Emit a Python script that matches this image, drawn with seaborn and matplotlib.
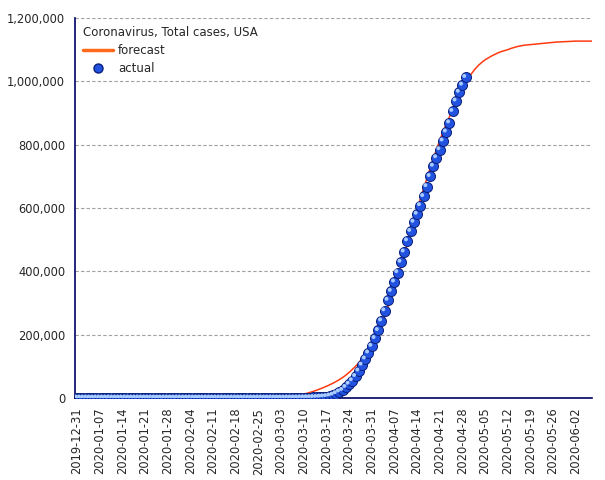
import pandas as pd
import numpy as np
import matplotlib
matplotlib.use("Agg")
import matplotlib.pyplot as plt
import matplotlib.dates as mdates
import matplotlib.transforms as mtransforms
from matplotlib.lines import Line2D
from matplotlib.ticker import FuncFormatter
import seaborn as sns

# actual total cases, one value per day from 2019-12-31
actual_dec = [0]
actual_jan = [0, 0, 0, 0, 0, 0, 0, 0, 0, 0, 0, 0, 0, 0, 0, 0, 0, 0, 0, 0, 0,
              0, 1, 1, 2, 2, 5, 5, 5, 5, 5]
actual_feb = [6, 7, 8, 11, 11, 11, 12, 12, 12, 12, 12, 13, 13, 14, 15, 15, 15,
              15, 15, 15, 15, 35, 35, 35, 53, 53, 59, 60, 62]
actual_mar = [68, 75, 100, 124, 158, 221, 319, 435, 541, 704, 994, 1301, 1630,
              2183, 2770, 3613, 4596, 6344, 9197, 13779, 19367, 24192, 33592,
              43781, 54856, 68211, 85435, 104126, 123578, 142460, 163479]
actual_apr = [188172, 213372, 243762, 275586, 308853, 337072, 366667, 396223,
              429052, 461437, 496535, 526396, 555313, 580619, 607670, 636350,
              667801, 699706, 732197, 759086, 784326, 811865, 840351, 869170,
              905358, 938154, 965785, 988197, 1012582]

# forecast, one value per day from 2020-03-01
forecast_mar = [1000, 1500, 2200, 3000, 4000, 5200, 6600, 8200, 10000, 12200,
                14800, 17800, 21000, 24500, 28500, 32500, 37000, 41500, 46500,
                52000, 58000, 64500, 72000, 80500, 90000, 100000, 111000,
                124000, 138000, 154000, 172000]
forecast_apr = [191000, 212000, 235000, 260000, 287000, 316000, 347000, 380000,
                414000, 449000, 486000, 523000, 560000, 595000, 628000, 660000,
                692000, 724000, 755000, 785000, 813000, 840000, 865000, 888000,
                910000, 934000, 957000, 978000, 997000, 1013000]
forecast_may = [1027000, 1040000, 1051000, 1060000, 1068000, 1074000, 1080000,
                1085000, 1090000, 1094000, 1097000, 1100000, 1104000, 1107000,
                1110000, 1112000, 1114000, 1115000, 1116000, 1117000, 1118000,
                1119000, 1120000, 1121000, 1122000, 1123000, 1124000, 1124500,
                1125000, 1125500, 1126000]
forecast_jun = [1126500, 1127000, 1127000, 1127000, 1127000, 1127000, 1127000]

actual = actual_dec + actual_jan + actual_feb + actual_mar + actual_apr
forecast = forecast_mar + forecast_apr + forecast_may + forecast_jun

df_act = pd.DataFrame({"date": pd.date_range("2019-12-31", periods=len(actual)),
                       "cases": actual})
df_fc = pd.DataFrame({"date": pd.date_range("2020-03-01", periods=len(forecast)),
                      "cases": forecast})

sns.set_style("white")
plt.rcParams["font.family"] = ["DejaVu Sans"]

navy = "#000066"
fig = plt.figure(figsize=(6.05, 4.8), dpi=100)
ax = fig.add_axes([75 / 605, 1 - 398 / 480, (592 - 75) / 605, (398 - 18) / 480])

sns.lineplot(data=df_fc, x="date", y="cases", ax=ax, color="#ff3a10", lw=1.1, zorder=2)
sns.scatterplot(data=df_act, x="date", y="cases", ax=ax, s=52, color="#2152e0",
                edgecolor="#0b1f7a", linewidth=0.7, zorder=3)
# little highlight on each ball
hl = mtransforms.offset_copy(ax.transData, fig=fig, x=-1.4, y=1.4, units="dots")
sns.scatterplot(data=df_act, x="date", y="cases", ax=ax, s=8, color="#a8ccff",
                edgecolor="none", linewidth=0, zorder=4, transform=hl)

start = pd.Timestamp("2019-12-31")
ax.set_xlim(start - pd.Timedelta(hours=14), pd.Timestamp("2020-06-07"))
ax.set_ylim(0, 1200000)
ax.set_xticks(pd.date_range("2019-12-31", "2020-06-02", freq="7D"))
ax.xaxis.set_major_formatter(mdates.DateFormatter("%Y-%m-%d"))
ax.set_yticks(np.arange(0, 1200001, 200000))
ax.yaxis.set_major_formatter(FuncFormatter(lambda v, p: f"{v:,.0f}"))
ax.tick_params(axis="x", labelrotation=90, labelsize=8.3, length=5, width=1,
               color=navy, pad=2)
ax.tick_params(axis="y", labelsize=8.3, length=5, width=1, color=navy, pad=2)
ax.set_xlabel("")
ax.set_ylabel("")

for s in ["top", "right"]:
    ax.spines[s].set_visible(False)
for s in ["left", "bottom"]:
    ax.spines[s].set_color(navy)
    ax.spines[s].set_linewidth(1.2)

ax.yaxis.grid(True, color="#a0a0a0", linestyle=(0, (3, 2)), linewidth=0.8)
ax.xaxis.grid(False)
ax.set_axisbelow(True)

handles = [Line2D([], [], color="#ff6a1a", lw=2.5),
           Line2D([], [], marker="o", ls="none", markersize=6.5,
                  markerfacecolor="#2152e0", markeredgecolor="#0b1f7a")]
leg = ax.legend(handles, ["forecast", "actual"], title="Coronavirus, Total cases, USA",
                loc="upper left", bbox_to_anchor=(0.0, 1.0), frameon=False,
                fontsize=8.5, title_fontsize=8.5, alignment="left",
                handlelength=2.6, handletextpad=0.4, labelspacing=0.45,
                borderaxespad=0.25)

fig.savefig("out.png", dpi=100)
